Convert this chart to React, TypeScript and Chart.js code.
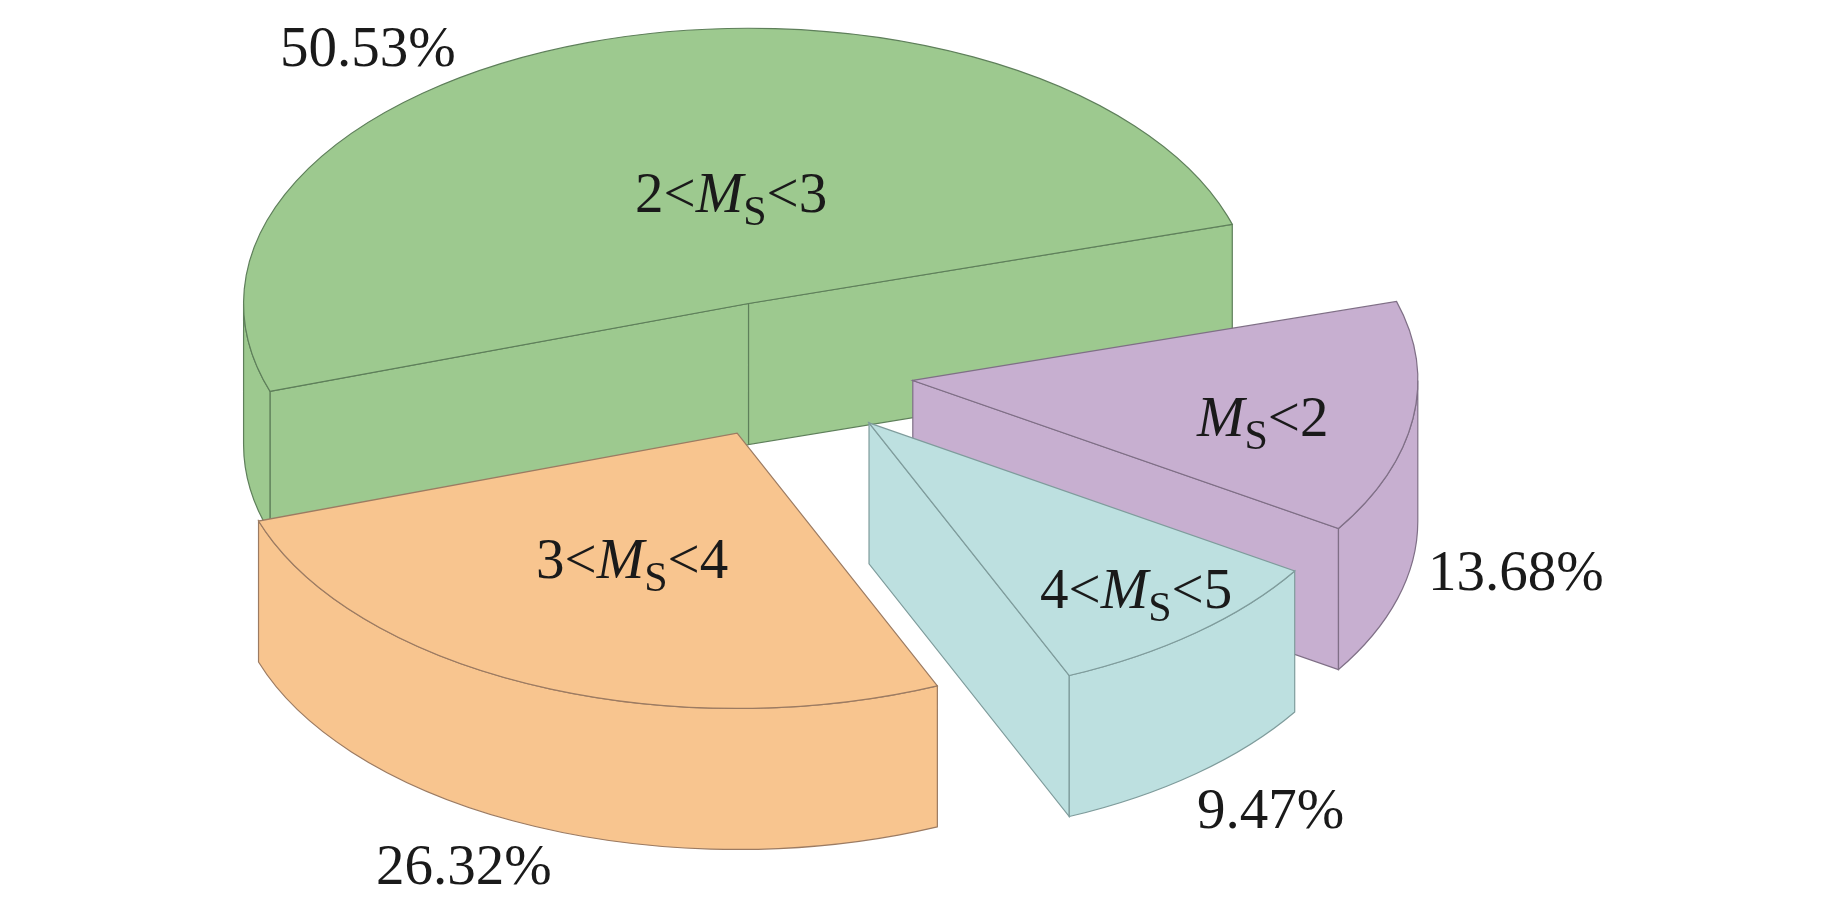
import React, { useEffect, useRef } from "react";
import { Chart, registerables } from "chart.js";

Chart.register(...registerables);

// Data, clockwise from the start of the purple slice
const categories = ["MS<2", "4<MS<5", "3<MS<4", "2<MS<3"];
const shares = [13.68, 9.47, 26.32, 50.53];
const fills = ["#C7AFD0", "#BDE0E0", "#F8C58F", "#9DC98F"];
const strokes = ["#7F6F86", "#7F9C9C", "#9C7B62", "#5E7F5A"];
const labelRuns = [
  [["", "M"], ["s", "S"], ["", "<2"]],
  [["", "4<"], ["i", "M"], ["s", "S"], ["", "<5"]],
  [["", "3<"], ["i", "M"], ["s", "S"], ["", "<4"]],
  [["", "2<"], ["i", "M"], ["s", "S"], ["", "<3"]],
];

// Layout (page pixels)
const W = 1843;
const H = 898;
const RADIUS = 505;
const TILT = 0.545;
const CENTER_X = 788;
const CENTER_Y = 371;
const EXPLODE = [126, 125, 125, 130];
const DEPTH = 141;
const FONT = '"Liberation Serif", "Times New Roman", serif';
const NAME_POS = [[1197, 436], [1040, 608], [536, 578], [635, 212]];
const PCT_POS = [[1428, 590], [1197, 828], [376, 884], [280, 66]];

const pie3d = {
  id: "pie3d",
  afterDatasetsUpdate(chart: any) {
    chart.getDatasetMeta(0).data.forEach((arc: any, i: number) => {
      const mid = (arc.startAngle + arc.endAngle) / 2;
      arc.x += Math.cos(mid) * EXPLODE[i];
      arc.y += Math.sin(mid) * EXPLODE[i];
    });
  },
  beforeDatasetsDraw(chart: any) {
    const ctx = chart.ctx;
    const cy0 = (chart.chartArea.top + chart.chartArea.bottom) / 2;
    const sy = (y: number) => CENTER_Y + (y - cy0) * TILT;
    // back to front: green, purple, teal, orange
    [3, 0, 1, 2].forEach((i) => {
      const arc = chart.getDatasetMeta(0).data[i];
      const { x, startAngle: a0, endAngle: a1, outerRadius: r } = arc;
      const y = sy(arc.y);
      const px = (a: number) => x + r * Math.cos(a);
      const py = (a: number) => y + r * TILT * Math.sin(a);
      ctx.save();
      ctx.fillStyle = fills[i];
      ctx.strokeStyle = strokes[i];
      ctx.lineWidth = 1.2;
      const wall = (a: number) => {
        ctx.beginPath();
        ctx.moveTo(x, y);
        ctx.lineTo(px(a), py(a));
        ctx.lineTo(px(a), py(a) + DEPTH);
        ctx.lineTo(x, y + DEPTH);
        ctx.closePath();
        ctx.fill();
        ctx.stroke();
      };
      if (Math.cos(a0) < 0) wall(a0);
      if (Math.cos(a1) > 0) wall(a1);
      // rim: the part of [a0,a1] that faces the viewer (0..PI, repeated per turn)
      for (let k = -1; k <= 1; k++) {
        const from = Math.max(a0, k * 2 * Math.PI);
        const to = Math.min(a1, k * 2 * Math.PI + Math.PI);
        if (to <= from) continue;
        ctx.beginPath();
        ctx.ellipse(x, y, r, r * TILT, 0, from, to);
        ctx.ellipse(x, y + DEPTH, r, r * TILT, 0, to, from, true);
        ctx.closePath();
        ctx.fill();
        ctx.stroke();
      }
      ctx.restore();
    });
  },
  beforeDatasetDraw(chart: any) {
    const ctx = chart.ctx;
    const cy0 = (chart.chartArea.top + chart.chartArea.bottom) / 2;
    ctx.save();
    ctx.translate(0, CENTER_Y);
    ctx.scale(1, TILT);
    ctx.translate(0, -cy0);
  },
  afterDatasetDraw(chart: any) {
    chart.ctx.restore();
  },
  afterDatasetsDraw(chart: any) {
    const ctx = chart.ctx;
    const cy0 = (chart.chartArea.top + chart.chartArea.bottom) / 2;
    chart.getDatasetMeta(0).data.forEach((arc: any, i: number) => {
      const y = CENTER_Y + (arc.y - cy0) * TILT;
      ctx.save();
      ctx.strokeStyle = strokes[i];
      ctx.lineWidth = 1.2;
      ctx.beginPath();
      ctx.moveTo(arc.x, y);
      ctx.ellipse(arc.x, y, arc.outerRadius, arc.outerRadius * TILT, 0, arc.startAngle, arc.endAngle);
      ctx.closePath();
      ctx.stroke();
      ctx.restore();
    });
    ctx.save();
    ctx.fillStyle = "#1a1a1a";
    ctx.textBaseline = "alphabetic";
    ctx.textAlign = "left";
    labelRuns.forEach((runs, i) => {
      let [tx, ty] = NAME_POS[i];
      runs.forEach(([style, text]) => {
        const italic = style === "i" || (style === "" && text === "M");
        ctx.font = `${italic ? "italic " : ""}${style === "s" ? 42 : 57}px ${FONT}`;
        ctx.fillText(text, tx, style === "s" ? ty + 13 : ty);
        tx += ctx.measureText(text).width;
      });
    });
    ctx.font = `57px ${FONT}`;
    shares.forEach((v, i) => {
      ctx.fillText(`${v.toFixed(2)}%`, PCT_POS[i][0], PCT_POS[i][1]);
    });
    ctx.restore();
  },
};

export default function App() {
  const ref = useRef<HTMLCanvasElement>(null);
  useEffect(() => {
    document.body.style.margin = "0";
    document.body.style.background = "#fff";
    const chart = new Chart(ref.current as HTMLCanvasElement, {
      type: "pie",
      data: {
        labels: categories,
        datasets: [{ data: shares, backgroundColor: fills, borderWidth: 0, hoverOffset: 0, clip: false } as any],
      },
      options: {
        animation: false,
        responsive: false,
        events: [],
        rotation: 73.3,
        radius: RADIUS,
        layout: { padding: { right: 2 * (W / 2 - CENTER_X) } },
        plugins: { legend: { display: false }, tooltip: { enabled: false }, title: { display: false } },
      } as any,
      plugins: [pie3d],
    });
    return () => chart.destroy();
  }, []);
  return (
    <div style={{ width: W, height: H, overflow: "hidden" }}>
      <canvas ref={ref} width={W} height={H} style={{ display: "block" }} />
    </div>
  );
}
